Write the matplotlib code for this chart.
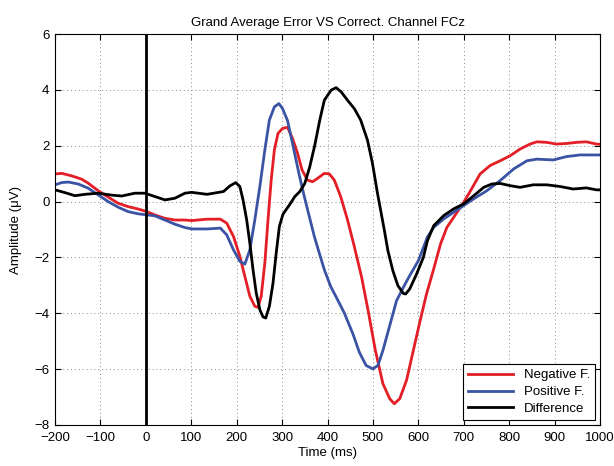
import numpy as np
import matplotlib.pyplot as plt

# time (ms) and amplitude (uV), one pair per sample
t_neg = [-200, -185, -163, -141, -127, -105, -83, -61, -39, -16,
         2, 20, 42, 64, 86, 101, 135, 164, 178, 193,
         207, 218, 229, 240, 247, 254, 262, 269, 276, 283,
         291, 301, 312, 323, 334, 344, 356, 367, 378, 393,
         404, 415, 429, 444, 459, 475, 490, 505, 522, 537,
         547, 559, 574, 589, 604, 618, 634, 649, 663, 678,
         700, 715, 736, 758, 780, 802, 824, 846, 861, 883,
         904, 926, 948, 970, 992, 1000]
neg = [0.99, 1.01, 0.92, 0.80, 0.66, 0.39, 0.16, -0.06, -0.18, -0.27,
       -0.36, -0.48, -0.60, -0.66, -0.66, -0.68, -0.63, -0.63, -0.77, -1.25,
       -1.96, -2.68, -3.39, -3.75, -3.79, -3.39, -2.20, -0.65, 0.77, 1.85,
       2.44, 2.62, 2.66, 2.26, 1.73, 1.13, 0.77, 0.71, 0.83, 1.01,
       0.99, 0.77, 0.18, -0.65, -1.61, -2.70, -3.95, -5.30, -6.52, -7.06,
       -7.24, -7.06, -6.40, -5.33, -4.26, -3.31, -2.40, -1.51, -0.92, -0.56,
       -0.02, 0.39, 0.99, 1.29, 1.46, 1.64, 1.88, 2.06, 2.14, 2.12,
       2.06, 2.08, 2.12, 2.14, 2.06, 2.05]

t_pos = [-200, -185, -171, -149, -127, -105, -83, -61, -39, -16,
         5, 20, 42, 64, 86, 101, 135, 164, 178, 193,
         207, 218, 229, 240, 251, 262, 272, 283, 293, 301,
         312, 326, 337, 348, 360, 371, 382, 393, 407, 422,
         437, 456, 470, 485, 500, 511, 522, 537, 552, 567,
         581, 600, 620, 634, 656, 678, 700, 722, 751, 780,
         810, 839, 861, 897, 926, 956, 992, 1000]
pos = [0.60, 0.68, 0.70, 0.63, 0.48, 0.24, 0.00, -0.20, -0.36, -0.44,
       -0.48, -0.51, -0.66, -0.81, -0.93, -0.98, -0.98, -0.95, -1.19, -1.73,
       -2.14, -2.24, -1.73, -0.65, 0.54, 1.85, 2.92, 3.39, 3.51, 3.33,
       2.90, 1.85, 1.01, 0.24, -0.54, -1.25, -1.85, -2.44, -3.04, -3.51,
       -3.99, -4.74, -5.39, -5.87, -5.99, -5.87, -5.33, -4.44, -3.55, -3.07,
       -2.65, -2.12, -1.27, -0.92, -0.62, -0.38, -0.14, 0.10, 0.39, 0.75,
       1.17, 1.46, 1.52, 1.49, 1.61, 1.67, 1.67, 1.67]

t_diff = [-200, -178, -156, -134, -105, -75, -53, -24, -2, 20,
          42, 64, 86, 101, 135, 171, 185, 198, 207, 214,
          222, 229, 236, 243, 251, 258, 264, 272, 280, 287,
          294, 302, 317, 328, 339, 350, 361, 372, 383, 393,
          408, 419, 430, 444, 459, 473, 488, 499, 510, 525,
          533, 544, 555, 567, 572, 581, 596, 611, 620, 634,
          656, 678, 700, 722, 744, 762, 780, 802, 824, 853,
          883, 912, 941, 970, 992, 1000]
diff = [0.42, 0.32, 0.21, 0.26, 0.30, 0.23, 0.20, 0.30, 0.30, 0.18,
        0.06, 0.12, 0.30, 0.33, 0.26, 0.36, 0.56, 0.68, 0.54, 0.06,
        -0.65, -1.49, -2.44, -3.27, -3.87, -4.13, -4.17, -3.75, -2.92, -1.85,
        -0.89, -0.45, -0.10, 0.18, 0.36, 0.65, 1.25, 2.02, 2.92, 3.63,
        3.99, 4.08, 3.93, 3.63, 3.33, 2.92, 2.20, 1.37, 0.30, -1.01,
        -1.76, -2.48, -3.01, -3.29, -3.31, -3.13, -2.60, -2.00, -1.40, -0.86,
        -0.50, -0.26, -0.08, 0.21, 0.51, 0.63, 0.65, 0.57, 0.51, 0.60,
        0.60, 0.54, 0.45, 0.49, 0.42, 0.42]

plt.rcParams['font.family'] = ['Liberation Sans', 'DejaVu Sans']

fig = plt.figure(figsize=(6.14, 4.66), dpi=100)
ax = fig.add_axes([0.0896, 0.088, 0.8876, 0.839])

ax.plot(t_neg, neg, color='#e31e26', lw=2.0, label='Negative F.')
ax.plot(t_pos, pos, color='#3a53a4', lw=2.0, label='Positive F.')
ax.plot(t_diff, diff, color='black', lw=2.0, label='Difference')
ax.axvline(0, color='black', lw=2.0)

ax.set_xlim(-200, 1000)
ax.set_ylim(-8, 6)
ax.set_xticks(np.arange(-200, 1001, 100))
ax.set_yticks(np.arange(-8, 7, 2))
ax.grid(True, linestyle=(0, (1, 3)), color='#888888', lw=0.7)
ax.tick_params(direction='in', top=True, right=True, labelsize=9.5, length=4)
ax.tick_params(axis='x', pad=5)
ax.tick_params(axis='y', pad=4)
ax.set_title('Grand Average Error VS Correct. Channel FCz', fontsize=9.5)
ax.set_xlabel('Time (ms)', fontsize=9.5, labelpad=2)
ax.set_ylabel('Amplitude (\u03bcV)', fontsize=9.5, labelpad=9)

leg = ax.legend(loc='lower right', fontsize=9.5, fancybox=False, framealpha=1,
                edgecolor='black', handlelength=3.4, borderaxespad=0.35,
                labelspacing=0.35, borderpad=0.4)
leg.get_frame().set_linewidth(0.8)

fig.savefig('out.png', dpi=100)
